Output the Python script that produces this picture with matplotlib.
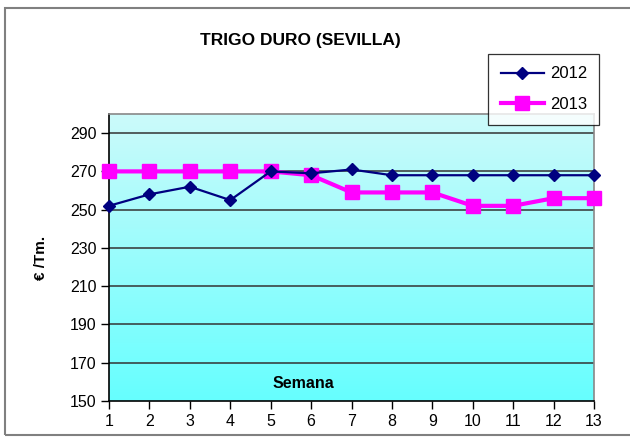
import numpy as np
import matplotlib
matplotlib.use("Agg")
import matplotlib.pyplot as plt
from matplotlib.patches import Rectangle

plt.rcParams['font.family'] = ['Liberation Sans Narrow', 'Liberation Sans', 'DejaVu Sans']

# semanas y precios (euro/Tm.)
semanas = list(range(1, 14))
precio_2012 = [252, 258, 262, 255, 270, 269, 271, 268, 268, 268, 268, 268, 268]
precio_2013 = [270, 270, 270, 270, 270, 268, 259, 259, 259, 252, 252, 256, 256]
yticks = [150, 170, 190, 210, 230, 250, 270, 290]

fig = plt.figure(figsize=(6.3, 4.37), dpi=100)
ax = fig.add_axes([109 / 630, 1 - 401 / 437, 485 / 630, 287 / 437])

# fondo degradado del area de trazado
top = np.array([204, 250, 250]) / 255
bottom = np.array([102, 255, 255]) / 255
t = np.linspace(0, 1, 256)[:, None]
grad = (top * (1 - t) + bottom * t)[:, None, :]
ax.imshow(grad, extent=[0, 1, 0, 1], transform=ax.transAxes, aspect='auto', zorder=0)

ax.plot(semanas, precio_2012, color='#000080', marker='D', markersize=6.5, linewidth=1.6,
        label='2012', clip_on=False, zorder=4)
ax.plot(semanas, precio_2013, color='#ff00ff', marker='s', markersize=9.5, linewidth=3,
        label='2013', clip_on=False, zorder=3)

ax.set_xlim(1, 13)
ax.set_ylim(150, 300)
ax.set_xticks(semanas)
ax.set_yticks(yticks)
ax.tick_params(axis='both', direction='out', length=6, width=1, labelsize=11.5, pad=3)
for y in yticks[1:]:
    ax.axhline(y, color='#333333', linewidth=1.1, zorder=1)

for s in ['left', 'bottom']:
    ax.spines[s].set_color('black')
    ax.spines[s].set_linewidth(1.2)
for s in ['right', 'top']:
    ax.spines[s].set_color('#888888')
    ax.spines[s].set_linewidth(1.2)

ax.text(0.40, 0.035, 'Semana', transform=ax.transAxes, ha='center', va='bottom',
        fontsize=11.5, fontweight='bold', zorder=5)
ax.set_ylabel('€ /Tm.', fontsize=11, fontweight='bold', labelpad=16)
fig.text(300 / 630, 1 - 41 / 437, 'TRIGO DURO (SEVILLA)', ha='center', va='center',
         fontsize=12.5, fontweight='bold')

leg = fig.legend(loc='upper left', bbox_to_anchor=(488 / 630, 1 - 54 / 437),
                 borderaxespad=0, fontsize=12, frameon=True, fancybox=False,
                 edgecolor='black', handlelength=2.6, borderpad=0.75, labelspacing=0.95,
                 handletextpad=0.35)
leg.get_frame().set_linewidth(0.9)

# marco exterior del grafico
fig.patches.append(Rectangle((5 / 630, 2 / 437), 1.0, 1 - 10 / 437, transform=fig.transFigure,
                             fill=False, edgecolor='#808080', linewidth=1.5, clip_on=False))

fig.savefig('out.png', dpi=100)
